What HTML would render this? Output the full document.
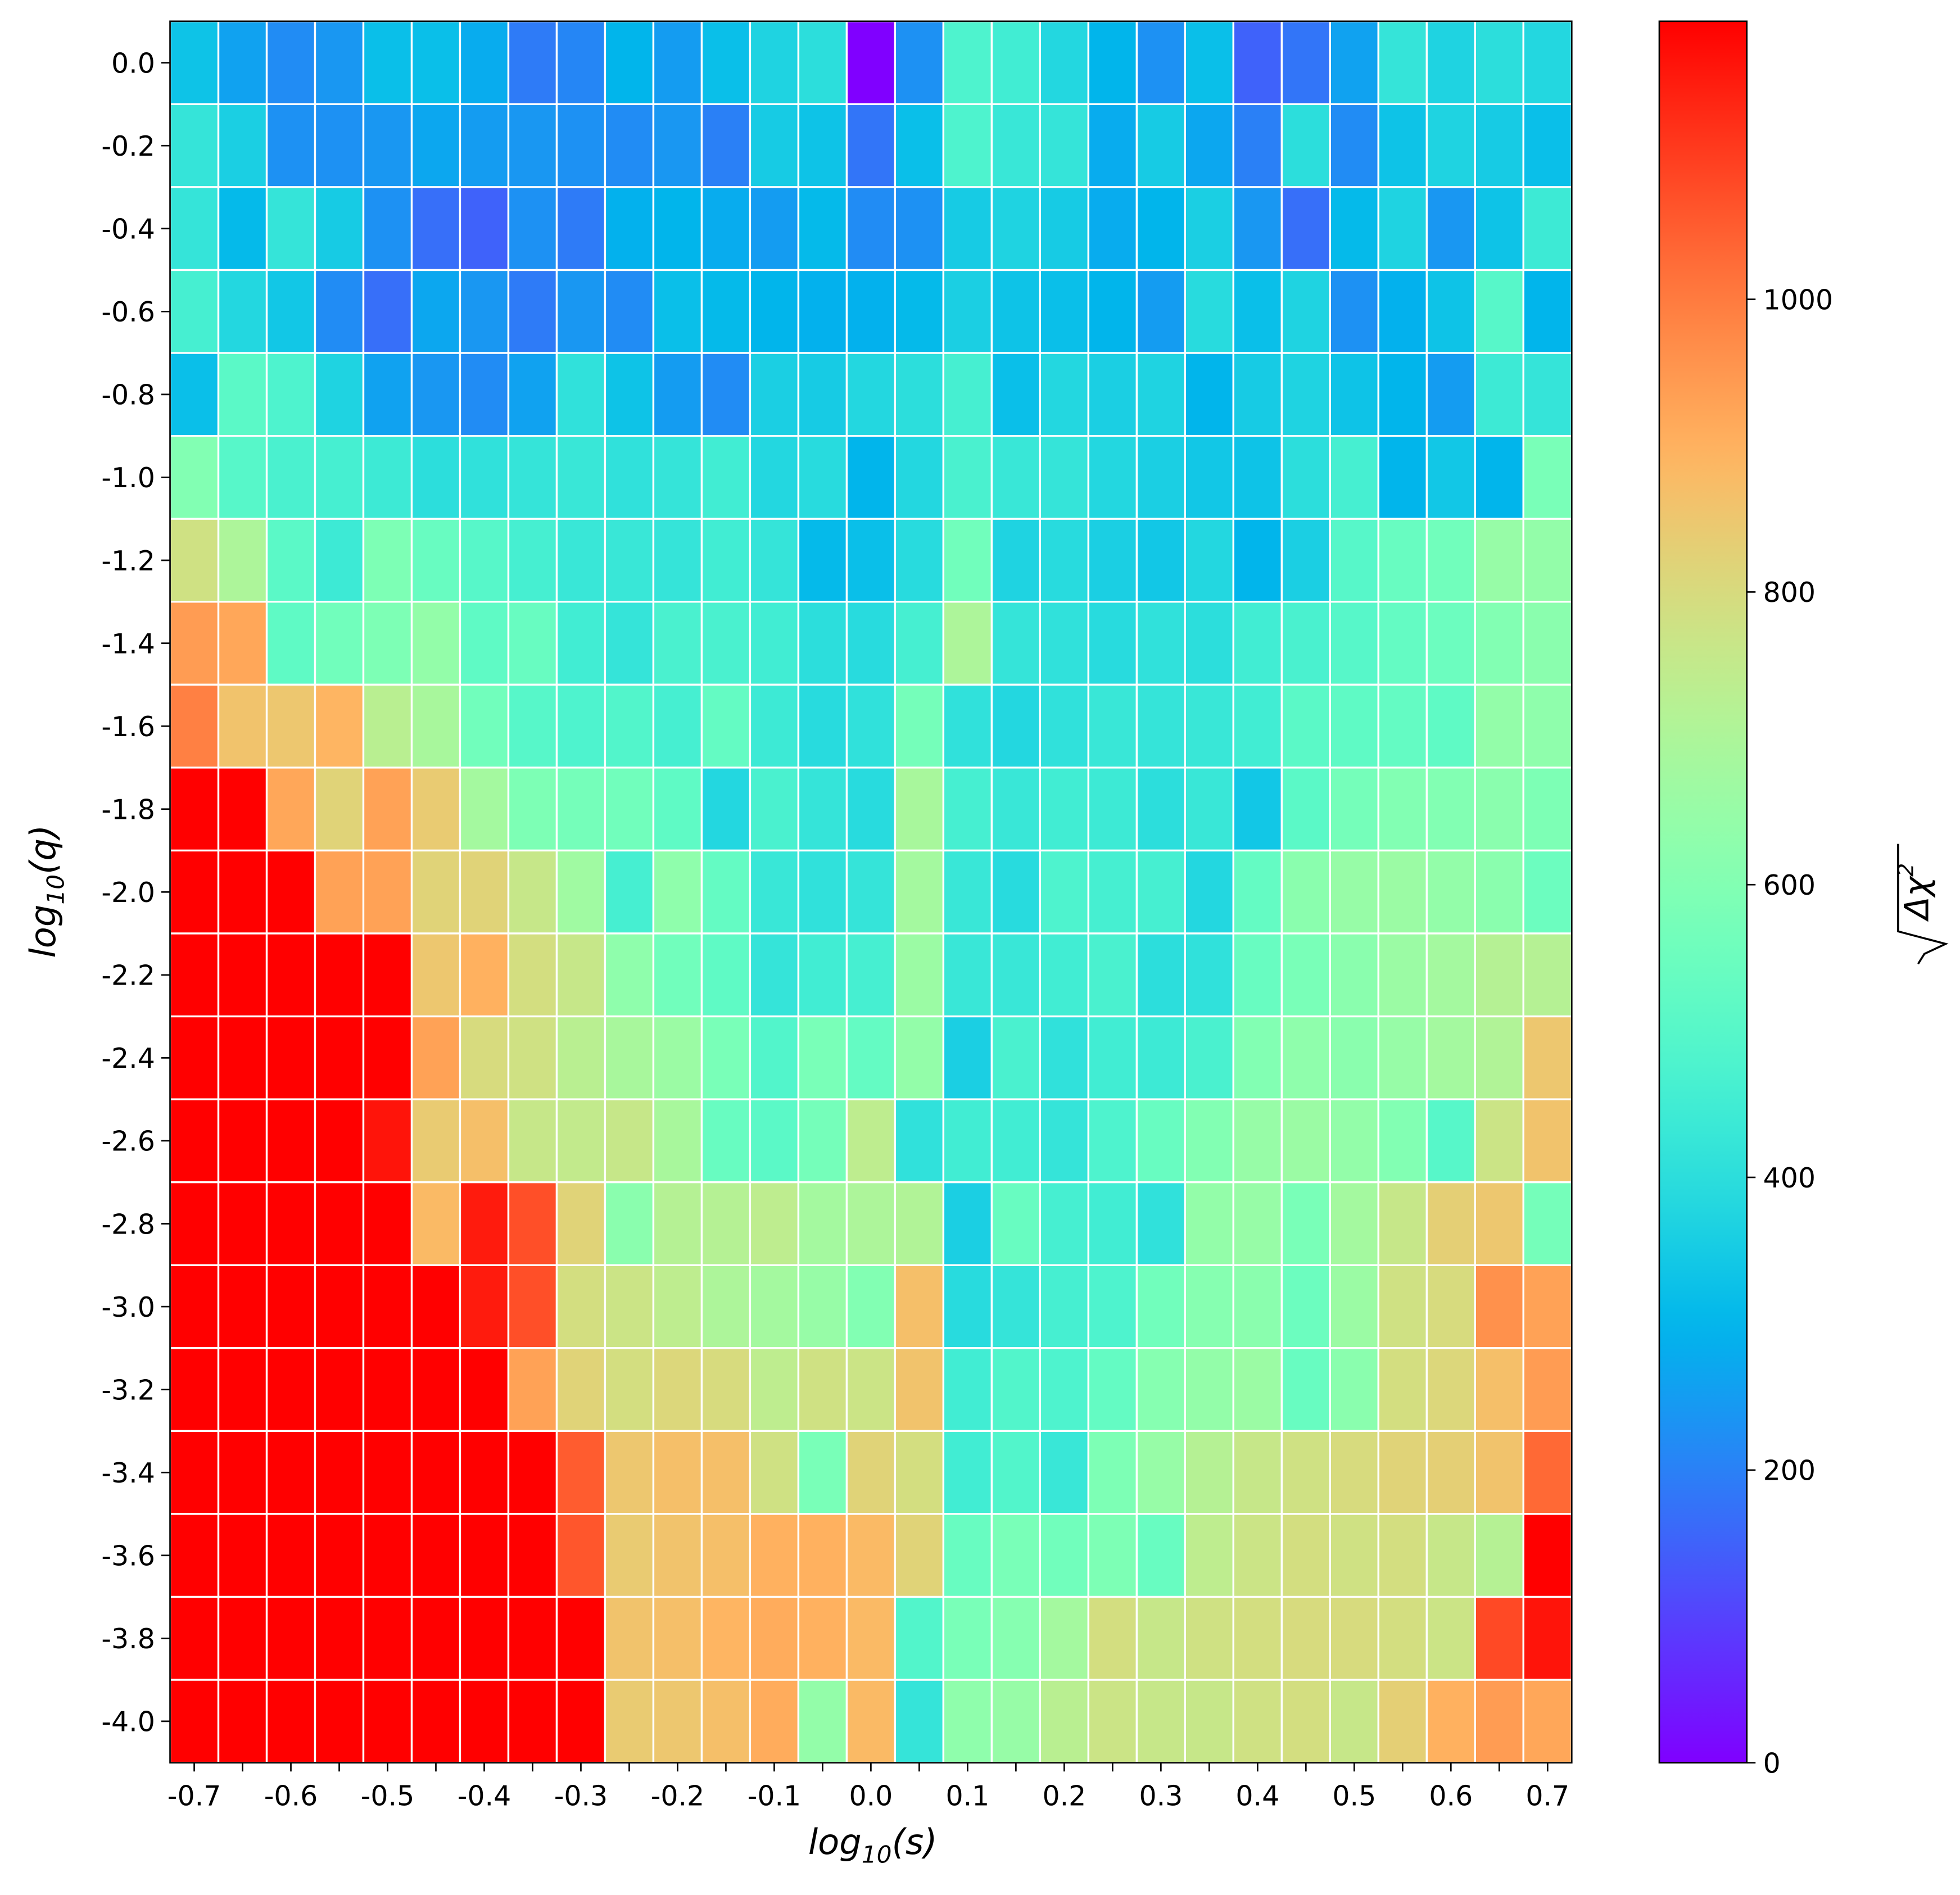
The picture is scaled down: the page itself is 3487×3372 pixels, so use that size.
<!DOCTYPE html>
<html><head><meta charset="utf-8">
<style>html,body{margin:0;padding:0;background:#fff}svg{display:block}text{font-family:"DejaVu Sans","Liberation Sans",sans-serif;fill:#000}</style>
</head><body>
<svg id="chart" width="3487" height="3372" viewBox="0 0 1567.5 1515.8" xmlns="http://www.w3.org/2000/svg">
<defs><linearGradient id="cbgrad" x1="0" y1="1" x2="0" y2="0"></linearGradient></defs>
<g id="cells"></g>
<rect x="136" y="17" width="1121" height="1393" fill="none" stroke="#000" stroke-width="1.2"/>
<g id="xticks"></g>
<g id="yticks"></g>
<text x="698" y="1483" font-size="28" text-anchor="middle" font-style="italic">log<tspan font-size="19" dy="7">10</tspan><tspan dy="-7">(s)</tspan></text>
<text transform="translate(44,713) rotate(-90)" font-size="28" text-anchor="middle" font-style="italic">log<tspan font-size="19" dy="7">10</tspan><tspan dy="-7">(q)</tspan></text>
<rect x="1327" y="17" width="70" height="1393" fill="url(#cbgrad)" stroke="#000" stroke-width="1.2"/>
<g id="cbticks"></g>
<g transform="translate(1542,713) rotate(-90)">
<text x="0" y="0" font-size="27" text-anchor="middle" font-style="italic">Δχ<tspan font-size="17" dy="-12">2</tspan></text>
<path d="M-58,-8 L-50,-3 L-42,14 L-32,-24 L38,-24" fill="none" stroke="#000" stroke-width="1.6"/>
</g>
</svg>
<script>
const xCategories=[-0.7,-0.65,-0.6,-0.55,-0.5,-0.45,-0.4,-0.35,-0.3,-0.25,-0.2,-0.15,-0.1,-0.05,0,0.05,0.1,0.15,0.2,0.25,0.3,0.35,0.4,0.45,0.5,0.55,0.6,0.65,0.7];
const yCategories=[0,-0.2,-0.4,-0.6,-0.8,-1.0,-1.2,-1.4,-1.6,-1.8,-2.0,-2.2,-2.4,-2.6,-2.8,-3.0,-3.2,-3.4,-3.6,-3.8,-4.0];
const xTickLabels=["-0.7","-0.6","-0.5","-0.4","-0.3","-0.2","-0.1","0.0","0.1","0.2","0.3","0.4","0.5","0.6","0.7"];
const yTickLabels=["0.0","-0.2","-0.4","-0.6","-0.8","-1.0","-1.2","-1.4","-1.6","-1.8","-2.0","-2.2","-2.4","-2.6","-2.8","-3.0","-3.2","-3.4","-3.6","-3.8","-4.0"];
const cbTicks=[0,200,400,600,800,1000];
const R=1200;
const v00=[330,260,220,240,320,320,280,190,210,300,250,320,370,400,0,230,480,450,380,300,230,320,150,180,260,420,370,400,380];
const v02=[420,360,230,230,240,270,250,240,230,220,240,200,350,330,180,320,480,430,420,280,350,270,200,400,220,330,370,350,320];
const v04=[420,310,420,350,230,170,150,230,190,290,300,280,250,310,220,230,350,370,350,280,300,360,240,170,310,370,240,330,440];
const v06=[460,380,340,220,170,270,240,190,240,220,320,310,300,290,290,310,360,330,320,300,250,390,320,370,230,290,330,500,300];
const v08=[320,510,480,370,260,240,220,260,410,330,250,220,360,350,380,400,460,320,380,360,370,300,350,370,330,300,250,440,420];
const v10=[600,500,470,460,440,400,410,420,430,410,420,450,380,390,300,380,470,430,420,380,360,340,330,400,460,300,340,300,580];
const v12=[780,700,510,440,590,540,500,460,430,430,420,450,420,310,320,390,560,370,390,360,340,380,300,360,500,540,560,650,640];
const v14=[940,920,520,560,590,640,520,540,450,420,470,470,450,400,390,460,700,420,410,390,410,400,450,470,500,530,550,600,620];
const v16=[990,860,850,890,730,690,560,500,480,490,460,530,440,390,410,570,410,380,410,430,420,430,450,510,520,530,520,640,630];
const v18=[R,R,920,820,930,840,680,590,570,560,520,380,470,420,390,690,460,430,450,440,400,430,340,510,570,600,600,620,590];
const v20=[R,R,R,930,930,820,820,760,670,460,630,530,430,410,420,680,430,390,480,460,460,380,530,620,650,660,640,620,550];
const v22=[R,R,R,R,R,850,900,790,760,630,560,520,420,450,460,660,430,430,450,470,400,410,540,580,620,660,680,720,720];
const v24=[R,R,R,R,R,930,800,780,730,690,660,580,490,580,530,640,360,470,410,450,440,470,600,630,620,650,680,710,850];
const v26=[R,R,R,R,1160,840,870,760,750,760,690,540,510,570,740,410,450,450,420,480,540,600,650,660,640,600,500,770,860];
const v28=[R,R,R,R,R,880,1150,1070,820,620,720,720,740,680,700,710,360,540,460,450,410,640,650,580,680,760,830,850,570];
const v30=[R,R,R,R,R,R,1150,1070,790,770,740,700,680,650,600,870,390,420,460,480,560,610,620,550,660,780,800,960,930];
const v32=[R,R,R,R,R,R,R,930,820,790,810,800,740,780,770,860,450,490,480,530,610,640,660,540,620,790,810,870,940];
const v34=[R,R,R,R,R,R,R,R,1050,850,870,870,780,580,820,790,450,490,430,590,650,720,760,780,800,820,830,860,1030];
const v36=[R,R,R,R,R,R,R,R,1060,840,860,870,900,900,880,820,540,580,560,590,540,740,770,790,780,790,760,720,1200];
const v38=[R,R,R,R,R,R,R,R,R,860,870,890,910,900,880,490,580,610,680,790,760,780,790,800,800,790,770,1080,1160];
const v40=[R,R,R,R,R,R,R,R,R,840,850,870,910,640,880,420,630,650,730,770,760,760,780,790,760,830,900,940,920];
const values=[v00,v02,v04,v06,v08,v10,v12,v14,v16,v18,v20,v22,v24,v26,v28,v30,v32,v34,v36,v38,v40];
const vmin=0,vmax=1190;
const NS="http://www.w3.org/2000/svg";
const X0=136,X1=1257,Y0=17,Y1=1410;
const cw=(X1-X0)/xCategories.length, ch=(Y1-Y0)/yCategories.length;
function xPos(i){return X0+i*cw;}
function yPos(j){return Y0+j*ch;}
function xVal(v){const x0=xCategories[0],step=xCategories[1]-xCategories[0];return X0+((v-x0)/step+0.5)*cw;}
function yVal(v){const y0=yCategories[0],step=yCategories[1]-yCategories[0];return Y0+((v-y0)/step+0.5)*ch;}
function cbY(v){return Y1-(v-vmin)/(vmax-vmin)*(Y1-Y0);}
function rainbow(v){let t=Math.max(0,Math.min(1,(v-vmin)/(vmax-vmin)));
 const r=Math.min(1,Math.abs(2*t-0.5)),g=Math.sin(Math.PI*t),b=Math.cos(Math.PI*t/2);
 return `rgb(${Math.round(r*255)},${Math.round(Math.max(0,g)*255)},${Math.round(Math.max(0,b)*255)})`;}
function mk(tag,attrs,parent){const e=document.createElementNS(NS,tag);for(const k in attrs)e.setAttribute(k,attrs[k]);parent.appendChild(e);return e;}
const cells=document.getElementById('cells');
values.forEach((row,j)=>row.forEach((v,i)=>{
 const r=mk('rect',{x:xPos(i),y:yPos(j),width:cw,height:ch,fill:rainbow(v),stroke:'#fff','stroke-width':1.5},cells);
 
 
}));
const xt=document.getElementById('xticks');
xCategories.forEach((c,i)=>{mk('line',{x1:xPos(i)+cw/2,x2:xPos(i)+cw/2,y1:Y1,y2:Y1+7,stroke:'#000','stroke-width':1.2},xt);});
xTickLabels.forEach(l=>{
 const t=mk('text',{x:xVal(parseFloat(l)),y:Y1+34,'font-size':22,'text-anchor':'middle'},xt);
 t.textContent=l;
 
 
});
const yt=document.getElementById('yticks');
yTickLabels.forEach(l=>{
 const y=yVal(parseFloat(l));
 mk('line',{x1:X0-7,x2:X0,y1:y,y2:y,stroke:'#000','stroke-width':1.2},yt);
 const t=mk('text',{x:X0-12,y:y+8,'font-size':22,'text-anchor':'end'},yt);
 t.textContent=l;
 
 
});
const grad=document.getElementById('cbgrad');
for(let k=0;k<=50;k++){const v=vmin+(vmax-vmin)*k/50;mk('stop',{offset:(k/50*100)+'%','stop-color':rainbow(v)},grad);}
const cbt=document.getElementById('cbticks');
cbTicks.forEach(v=>{
 const y=cbY(v);
 mk('line',{x1:1397,x2:1404,y1:y,y2:y,stroke:'#000','stroke-width':1.2},cbt);
 const t=mk('text',{x:1410,y:y+8,'font-size':22},cbt);
 t.textContent=String(v);
 
 
});
</script>
</body></html>
